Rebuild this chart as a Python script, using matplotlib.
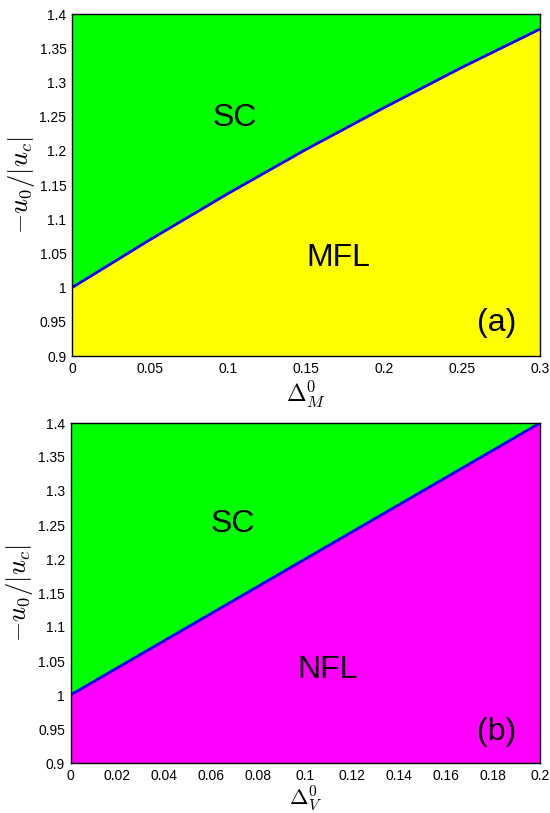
import matplotlib
matplotlib.use("Agg")
import matplotlib.pyplot as plt

plt.rcParams['font.family'] = ['Liberation Sans', 'DejaVu Sans']
plt.rcParams['mathtext.fontset'] = 'cm'

# Panel (a): phase boundary vs Delta_M^0
delta_m = [0.0, 0.05, 0.10, 0.15, 0.20, 0.25, 0.30]
u_crit_m = [1.000, 1.070, 1.1375, 1.202, 1.263, 1.322, 1.378]
xticks_a = [0, 0.05, 0.1, 0.15, 0.2, 0.25, 0.3]
xticklabels_a = ['0', '0.05', '0.1', '0.15', '0.2', '0.25', '0.3']

# Panel (b): phase boundary vs Delta_V^0
delta_v = [0.0, 0.2]
u_crit_v = [1.0, 1.4]
xticks_b = [0, 0.02, 0.04, 0.06, 0.08, 0.1, 0.12, 0.14, 0.16, 0.18, 0.2]
xticklabels_b = ['0', '0.02', '0.04', '0.06', '0.08', '0.1', '0.12', '0.14',
                 '0.16', '0.18', '0.2']

yticks = [0.9, 0.95, 1.0, 1.05, 1.1, 1.15, 1.2, 1.25, 1.3, 1.35, 1.4]
yticklabels = ['0.9', '0.95', '1', '1.05', '1.1', '1.15', '1.2', '1.25',
               '1.3', '1.35', '1.4']
ymin, ymax = 0.9, 1.4

GREEN = '#00ff00'
YELLOW = '#ffff00'
MAGENTA = '#ff00ff'
BLUE = '#0000ff'

fig = plt.figure(figsize=(5.5, 8.13), dpi=100)
W, H = 550, 813
ax_a = fig.add_axes([72 / W, 1 - 356 / H, 468 / W, 342 / H])
ax_b = fig.add_axes([70.5 / W, 1 - 763 / H, 469.5 / W, 340 / H])


def draw_panel(ax, x, y, low_color, xticks, xticklabels, xlabel,
               labels, xlabelsize, xlabelpad):
    ax.fill_between(x, y, ymax, color=GREEN, lw=0, zorder=1)
    ax.fill_between(x, ymin, y, color=low_color, lw=0, zorder=1)
    ax.plot(x, y, color=BLUE, lw=2.0, zorder=3, solid_capstyle='butt')
    ax.set_xlim(x[0], x[-1])
    ax.set_ylim(ymin, ymax)
    ax.set_xticks(xticks)
    ax.set_xticklabels(xticklabels)
    ax.set_yticks(yticks)
    ax.set_yticklabels(yticklabels)
    ax.tick_params(length=0, labelsize=10, pad=4, colors='black')
    for s in ax.spines.values():
        s.set_linewidth(1.0)
        s.set_color('black')
        s.set_zorder(4)
    ax.set_ylabel(r'$-u_0/|u_c|$', fontsize=19, labelpad=2)
    ax.set_xlabel(xlabel, fontsize=xlabelsize, labelpad=xlabelpad)
    for (tx, ty, s) in labels:
        ax.text(tx, ty, s, fontsize=23, ha='center', va='center', zorder=5)


draw_panel(ax_a, delta_m, u_crit_m, YELLOW, xticks_a, xticklabels_a,
           r'$\Delta_M^0$',
           [(0.1045, 1.248, 'SC'), (0.1705, 1.044, 'MFL'),
            (0.272, 0.948, '(a)')], 17, 2)
draw_panel(ax_b, delta_v, u_crit_v, MAGENTA, xticks_b, xticklabels_b,
           r'$\Delta_V^0$',
           [(0.0692, 1.251, 'SC'), (0.1097, 1.037, 'NFL'),
            (0.1817, 0.946, '(b)')], 16, 0)

fig.savefig('out.png', dpi=100)
